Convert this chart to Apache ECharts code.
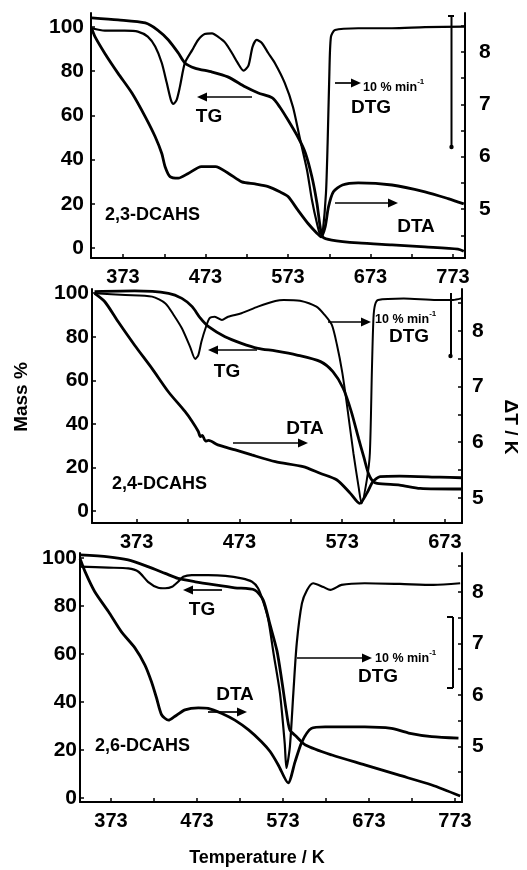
<!DOCTYPE html>
<html>
<head>
<meta charset="utf-8">
<title>TG / DTG / DTA of DCAHS isomers</title>
<script src="https://cdn.jsdelivr.net/npm/echarts@6.0.0/dist/echarts.min.js"></script>
<style>
  html, body { margin: 0; padding: 0; background: #fff; }
  #chart-container { width: 527px; height: 870px; }
</style>
</head>
<body>
<div id="chart-container"></div>
<script>
// tick labels
var tempLabels = [373, 473, 573, 673, 773];
var tempLabels24 = [373, 473, 573, 673];
var tempTicks = [373, 423, 473, 523, 573, 623, 673, 723, 773];
var massLabels = [0, 20, 40, 60, 80, 100];
var dtLabels = [5, 6, 7, 8];
var dtTicks = [4.5, 5, 5.5, 6, 6.5, 7, 7.5, 8, 8.5];

// 2,3-DCAHS  [T / K, value]
var tg23 = [[335,104.1],[367,103.2],[400,101.8],[415,98.6],[428,94.1],[440,88.2],[448,83.7],[460,81.4],[481,79.6],[500,77.4],[521,72.9],[537,70.1],[554,67.9],[563,63.8],[573,57.9],[585,50.2],[594,43],[602,32.1],[608,20.4],[612,9.5],[615,5],[626,3.6],[658,2.3],[699,1.4],[739,0.5],[779,-0.5],[786,-1.5]];
var dtg23 = [[335,99.4],[351,98.3],[375,98.3],[391,97.9],[403,95.6],[412,91.1],[420,83.7],[426,74.7],[431,67],[434,65.2],[438,67],[442,73],[448,83.7],[457,89.6],[464,94.1],[472,96.8],[481,97.1],[488,95.6],[497,92.8],[505,88.2],[512,83.7],[519,80.2],[525,82.5],[530,91],[535,94.1],[541,92.8],[549,88.2],[557,83.7],[569,74.7],[579,63.8],[587,50.2],[596,35.3],[602,21.7],[608,11.3],[613,5],[615,6.8],[619,24.9],[621,47.5],[623,77.4],[625,95.5],[630,98.6],[658,99.4],[699,99.4],[739,99.9],[787,100.1]];
var dta23 = [[335,8.45],[339,8.29],[351,7.97],[367,7.59],[384,7.21],[400,6.76],[412,6.38],[420,6.06],[424,5.81],[430,5.62],[440,5.59],[452,5.68],[468,5.81],[485,5.81],[501,5.68],[517,5.52],[533,5.48],[549,5.43],[563,5.33],[573,5.24],[585,4.98],[597,4.73],[608,4.54],[613,4.47],[618,4.66],[622,5.04],[628,5.33],[639,5.46],[658,5.5],[699,5.46],[739,5.33],[767,5.2],[786,5.1]];

// 2,4-DCAHS
var tg24 = [[332,100.7],[371,101],[404,99.9],[417,97.6],[427,93.8],[435,88.5],[443,84.6],[459,80],[475,77],[491,74.7],[508,73.5],[529,71.6],[552,68.6],[564,64],[574,56.4],[582,45.6],[589,33.4],[594,25],[598.5,17.4],[602,14.3],[607,12.8],[629,12],[649,10.5],[689,10.2]];
var dtg24 = [[332,99.9],[362,99.2],[388,98.4],[401,95.3],[409,90],[417,83.9],[425,75.4],[430,69.8],[433,71.6],[436,77.7],[440,83.9],[444,88.5],[449,89.2],[456,87.7],[462,89.2],[475,90.8],[491,93.8],[508,96.4],[516,96.9],[532,96.5],[548,93.8],[556,90],[563,85.4],[568,76.2],[573,64],[577.5,49.5],[584,26.6],[589,11.3],[592,3.6],[597,14.3],[600,26.6],[602,64.8],[603.5,88.5],[605,94.6],[608,96.9],[633,97.6],[665,96.9],[681,96.9],[689,97.6]];
var dta24 = [[332,8.67],[342,8.52],[355,8.16],[371,7.74],[388,7.32],[404,6.9],[420,6.55],[427,6.37],[433,6.19],[435,6.1],[437,6.12],[440,6.02],[443,6.03],[452,5.95],[469,5.86],[485,5.77],[508,5.65],[535,5.56],[551.5,5.44],[568,5.32],[581,5.08],[590,4.9],[597,5.08],[603,5.29],[610,5.38],[629,5.39],[668,5.37],[689,5.36]];

// 2,6-DCAHS
var tg26 = [[337,101.3],[370,100.5],[393,99.2],[416,96.4],[436,93.6],[451,91.5],[471,90.1],[494,88.8],[517,87.6],[540,86.7],[550,82.5],[558,72.1],[566,61.3],[571.5,49.2],[577,35.8],[581,28.3],[588,25.8],[599,22.1],[630,17.9],[668,13.8],[707,9.6],[746,5.4],[779,0.8]];
var dtg26 = [[337,96.4],[370,96],[393,95.7],[405,94.3],[416,90.1],[428,87.6],[436,87.4],[444,88],[451,90.1],[457,92.2],[467,92.9],[486,92.9],[506,92.6],[525,91.5],[537,90.1],[544,87.4],[550,81.8],[556,74.2],[562,60.3],[569.5,43.6],[575,22.8],[577,12.5],[581,21.4],[585,43.6],[589,64.5],[595,81.1],[601,86.7],[608,89.5],[620,87.9],[628,86.7],[641,88.8],[668,89.5],[709,89.2],[748,88.8],[779,89.5]];
var dta26 = [[337,8.65],[343,8.39],[354,8.01],[370,7.62],[385,7.23],[401,6.91],[412.5,6.58],[420,6.26],[426,5.94],[432,5.61],[440,5.51],[447,5.58],[459,5.71],[474.5,5.75],[486,5.74],[502,5.64],[517,5.51],[533,5.32],[548,5.09],[558,4.9],[567.5,4.64],[579,4.29],[587,4.7],[595,5.09],[606,5.35],[622,5.38],[668,5.38],[699,5.35],[719,5.26],[746,5.19],[777,5.16]];

var FONT = '"Liberation Sans", Arial, Helvetica, sans-serif';

var chartDom = document.getElementById('chart-container');
var tgaChart = echarts.init(chartDom, null, { renderer: 'canvas' });

function xAx(i, min, max, labels) {
    return {
        type: 'value', gridIndex: i, min: min, max: max,
        axisLine: { onZero: false, lineStyle: { color: '#000', width: 2 } },
        axisTick: { inside: true, length: 4, customValues: tempTicks, lineStyle: { color: '#000', width: 1.5 } },
        axisLabel: { customValues: labels, color: '#000', fontSize: 20, fontWeight: 'bold', fontFamily: FONT, margin: 9 },
        splitLine: { show: false }
    };
}

function yLeft(i, min, max, margin) {
    return {
        type: 'value', gridIndex: i, position: 'left', min: min, max: max,
        axisLine: { show: true, onZero: false, lineStyle: { color: '#000', width: 2 } },
        axisTick: { show: true, inside: true, length: 4, customValues: massLabels, lineStyle: { color: '#000', width: 1.5 } },
        axisLabel: { customValues: massLabels, color: '#000', fontSize: 21, fontWeight: 'bold', fontFamily: FONT, margin: margin },
        splitLine: { show: false }
    };
}

function yRight(i, min, max, margin) {
    return {
        type: 'value', gridIndex: i, position: 'right', min: min, max: max,
        axisLine: { show: true, onZero: false, lineStyle: { color: '#000', width: 2 } },
        axisTick: { show: true, inside: true, length: 4, customValues: dtTicks, lineStyle: { color: '#000', width: 1.5 } },
        axisLabel: { customValues: dtLabels, color: '#000', fontSize: 21, fontWeight: 'bold', fontFamily: FONT, margin: margin },
        splitLine: { show: false }
    };
}

function curve(name, data, xi, yi, w) {
    return {
        name: name, type: 'line', xAxisIndex: xi, yAxisIndex: yi,
        data: data, showSymbol: false, symbol: 'none', smooth: 0.25,
        lineStyle: { color: '#000', width: w }, silent: true
    };
}

function txt(t, x, y, size, align, rot) {
    return {
        type: 'text', x: x, y: y, rotation: rot || 0, z: 100,
        style: {
            text: t, fill: '#000', fontSize: size, fontWeight: 'bold', fontFamily: FONT,
            align: align || 'center', verticalAlign: 'middle',
            textAlign: align || 'center', textVerticalAlign: 'middle'
        }
    };
}

function rateTxt(x, y) {
    return {
        type: 'text', x: x, y: y, z: 100,
        style: {
            text: '{a|10 % min}{s|-1}', fill: '#000', fontFamily: FONT,
            align: 'left', verticalAlign: 'middle', textAlign: 'left', textVerticalAlign: 'middle',
            rich: {
                a: { fontSize: 12.5, fontWeight: 'bold', fontFamily: FONT, lineHeight: 16, verticalAlign: 'bottom' },
                s: { fontSize: 8, fontWeight: 'bold', fontFamily: FONT, lineHeight: 16, verticalAlign: 'top' }
            }
        }
    };
}

function arrow(x1, y, x2) {
    var d = x2 > x1 ? 1 : -1;
    return {
        type: 'group', z: 100,
        children: [
            { type: 'line', shape: { x1: x1, y1: y, x2: x2 - d * 7, y2: y }, style: { stroke: '#000', lineWidth: 1.7 } },
            { type: 'polygon', shape: { points: [[x2, y], [x2 - d * 10, y - 4.5], [x2 - d * 10, y + 4.5]] }, style: { fill: '#000' } }
        ]
    };
}

function seg(x1, y1, x2, y2, w) {
    return { type: 'line', z: 100, shape: { x1: x1, y1: y1, x2: x2, y2: y2 }, style: { stroke: '#000', lineWidth: w || 2 } };
}

function dot(x, y) {
    return { type: 'circle', z: 100, shape: { cx: x, cy: y, r: 2.2 }, style: { fill: '#000' } };
}

var tga_option = {
    animation: false,
    backgroundColor: '#fff',
    grid: [
        { left: 91, top: 13, width: 374, height: 245, containLabel: false, outerBoundsMode: 'none' },
        { left: 92, top: 289, width: 370, height: 234, containLabel: false, outerBoundsMode: 'none' },
        { left: 80, top: 553, width: 382, height: 249, containLabel: false, outerBoundsMode: 'none' }
    ],
    xAxis: [
        xAx(0, 334.2, 787.5, tempLabels),
        xAx(1, 329.5, 689.7, tempLabels24),
        xAx(2, 337, 781.1, tempLabels)
    ],
    yAxis: [
        yLeft(0, -4.52, 106.3, 7),
        yRight(0, 4.067, 8.742, 14),
        yLeft(1, -5.39, 101.9, 3),
        yRight(1, 4.548, 8.749, 10),
        yLeft(2, -1.67, 102.1, 3),
        yRight(2, 3.92, 8.757, 10)
    ],
    series: [
        curve('TG 2,3', tg23, 0, 0, 2.8),
        curve('DTG 2,3', dtg23, 0, 0, 2.2),
        curve('DTA 2,3', dta23, 0, 1, 2.8),
        curve('TG 2,4', tg24, 1, 2, 2.8),
        curve('DTG 2,4', dtg24, 1, 2, 2.0),
        curve('DTA 2,4', dta24, 1, 3, 2.8),
        curve('TG 2,6', tg26, 2, 4, 2.8),
        curve('DTG 2,6', dtg26, 2, 4, 2.2),
        curve('DTA 2,6', dta26, 2, 5, 2.8)
    ],
    graphic: [
        // panel 1
        txt('2,3-DCAHS', 105, 215, 18, 'left'),
        txt('TG', 209, 117, 19),
        arrow(252, 97, 197),
        txt('DTG', 371, 108, 19),
        arrow(335, 83, 361),
        rateTxt(363, 86),
        txt('DTA', 416, 227, 19),
        arrow(335, 203, 398),
        seg(451.5, 16, 451.5, 147, 2),
        seg(448, 16, 454, 16, 2),
        dot(451.5, 147),
        // panel 2
        txt('Mass %', 22, 397, 19, 'center', Math.PI / 2),
        txt('\u0394T / K', 510, 427, 19, 'center', -Math.PI / 2),
        txt('2,4-DCAHS', 112, 484, 18, 'left'),
        txt('TG', 227, 372, 19),
        arrow(257, 350, 208),
        txt('DTA', 305, 429, 19),
        arrow(233, 443, 308),
        arrow(328, 322, 371),
        rateTxt(375, 318),
        txt('DTG', 409, 337, 19),
        seg(451, 293, 451, 356, 2),
        dot(450.5, 356),
        // panel 3
        txt('2,6-DCAHS', 95, 746, 18, 'left'),
        txt('TG', 202, 610, 19),
        arrow(222, 590, 183),
        txt('DTA', 235, 695, 19),
        arrow(208, 712, 247),
        arrow(297, 658, 372),
        rateTxt(375, 657),
        txt('DTG', 378, 677, 19),
        seg(453, 617, 453, 688, 2),
        seg(447, 617, 453, 617, 2),
        seg(447, 688, 453, 688, 2),
        txt('Temperature / K', 257, 858, 18)
    ]
};

tgaChart.setOption(tga_option);
window.addEventListener('resize', tgaChart.resize);
</script>
</body>
</html>
